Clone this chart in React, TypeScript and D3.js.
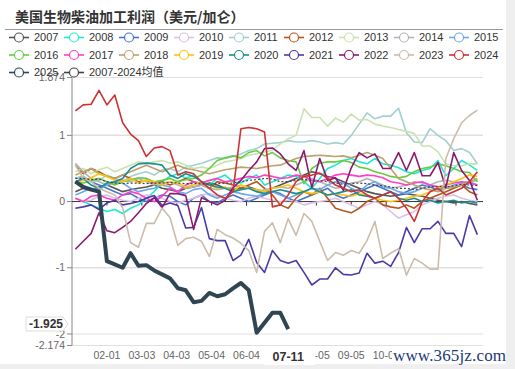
import React from 'react';
import * as d3 from 'd3';

// weekly values, first point at day index 3 of the calendar axis
const weekStart = 3;

const names = ['2007', '2008', '2009', '2010', '2011', '2012', '2013', '2014', '2015', '2016',
  '2017', '2018', '2019', '2020', '2021', '2022', '2023', '2024', '2025', '2007-2024均值'];

const colors = ['#555555', '#1de9d0', '#4a74c9', '#dcbfe6', '#a2cfd0', '#b5561f', '#c8e3b0', '#b4b4b4', '#6fa8e6', '#66cc44',
  '#ff3fc8', '#b9a46c', '#ffc20e', '#1b8f8f', '#4b3aa6', '#8b1a70', '#cbbcab', '#cc3333', '#2f4554', '#444444'];

const y2007 = [0.15, 0.2, 0.18, 0.22, 0.25, 0.2, 0.15, 0.18, 0.2, 0.22, 0.25, 0.2, 0.18,
  0.15, 0.2, 0.22, 0.25, 0.28, 0.25, 0.2, 0.18, 0.2, 0.22, 0.18, 0.15, 0.2,
  0.25, 0.3, 0.35, 0.4, 0.45, 0.42, 0.38, 0.35, 0.3, 0.25, 0.2, 0.15, 0.12,
  0.1, 0.08, 0.1, 0.12, 0.1, 0.08, 0.05, 0.02, 0.0, -0.02, 0.0, -0.03, -0.05];
const y2008 = [0.05, 0, -0.05, -0.1, -0.15, -0.12, -0.18, -0.1, -0.05, 0.05, 0.15, 0.3, 0.38,
  0.42, 0.35, 0.4, 0.3, 0.25, 0.35, 0.4, 0.3, 0.28, 0.35, 0.4, 0.25, 0.3,
  0.35, 0.4, 0.38, 0.3, 0.2, 0.35, 0.5, 0.55, 0.62, 0.65, 0.6, 0.57, 0.65,
  0.57, 0.55, 0.51, 0.45, 0.42, 0.47, 0.5, 0.62, 0.39, 0.5, 0.62, 0.55, 0.47];
const y2009 = [0.35, 0.38, 0.3, 0.25, 0.2, 0.15, 0.1, 0.12, 0.05, 0, 0.05, 0.1, 0.08,
  0, -0.05, 0.05, 0.1, 0, -0.02, 0.05, 0.1, 0.05, 0, 0.05, 0.1, 0.15,
  0.12, 0.05, 0, 0.05, 0.1, 0.15, 0.2, 0.1, 0.05, 0.1, 0.15, 0.2, 0.25,
  0.2, 0.15, 0.1, 0.15, 0.2, 0.25, 0.22, 0.18, 0.2, 0.22, 0.25, 0.2, 0.18];
const y2010 = [0.05, 0, 0.02, 0.08, 0.1, 0.05, 0.02, 0, 0.05, 0.1, 0.08, 0.05, 0,
  -0.02, 0.02, 0.05, 0.1, 0.12, 0.08, 0.05, 0.02, 0, 0.05, 0.08, 0.05, 0.02,
  0, 0.02, 0, -0.05, -0.02, 0, 0.02, 0.05, 0, -0.05, -0.1, -0.05, 0,
  -0.05, -0.15, -0.25, -0.2, -0.15, -0.05, 0, 0.05, 0.08, 0.1, 0.05, 0.02, 0];
const y2011 = [0.35, 0.38, 0.3, 0.32, 0.4, 0.35, 0.3, 0.38, 0.42, 0.45, 0.4, 0.48, 0.5,
  0.45, 0.52, 0.55, 0.58, 0.62, 0.66, 0.65, 0.68, 0.72, 0.77, 0.8, 0.87, 0.88,
  0.89, 0.92, 0.9, 0.9, 0.92, 0.9, 0.87, 0.89, 0.87, 1.0, 1.17, 1.34, 1.25,
  1.29, 1.29, 1.41, 1.04, 0.9, 0.89, 1.1, 1.0, 0.92, 0.77, 0.8, 0.74, 0.57];
const y2012 = [0.55, 0.42, 0.5, 0.45, 0.38, 0.35, 0.4, 0.35, 0.3, 0.32, 0.28, 0.3, 0.25,
  0.3, 0.35, 0.3, 0.25, 0.2, 0.3, 0.28, 0.25, 0.2, 0.25, 0.3, 0.2, 0.1,
  -0.05, -0.1, 0.05, 0.15, 0.1, 0.2, 0.05, -0.1, -0.14, -0.17, -0.1, 0, 0.05,
  -0.05, -0.08, -0.1, -0.05, -0.1, 0, 0.05, 0.1, 0.15, 0.2, 0.25, 0.15, 0.1];
const y2013 = [0.45, 0.5, 0.42, 0.48, 0.52, 0.45, 0.5, 0.55, 0.6, 0.58, 0.6, 0.62, 0.58,
  0.6, 0.55, 0.5, 0.52, 0.5, 0.55, 0.6, 0.62, 0.65, 0.7, 0.72, 0.75, 0.78,
  0.87, 0.95, 1.0, 1.4, 1.27, 1.27, 1.14, 1.26, 1.2, 1.32, 1.23, 1.24, 1.17,
  1.14, 1.12, 1.09, 1.06, 1.03, 0.84, 0.84, 0.75, 0.57, 0.54, 0.54, 0.57, 0.57];
const y2014 = [0.58, 0.45, 0.35, 0.3, 0.25, 0.28, 0.32, 0.3, 0.35, 0.3, 0.25, 0.28, 0.3,
  0.25, 0.2, 0.22, 0.25, 0.2, 0.18, 0.2, 0.22, 0.25, 0.2, 0.15, 0.18, 0.2,
  0.22, 0.2, 0.25, 0.3, 0.35, 0.3, 0.25, 0.2, 0.22, 0.28, 0.3, 0.35, 0.3,
  0.25, 0.2, 0.22, 0.25, 0.3, 0.28, 0.25, 0.3, 0.32, 0.3, 0.28, 0.3, 0.32];
const y2015 = [0.1, 0.15, 0.2, 0.18, 0.25, 0.3, 0.28, 0.2, 0.15, 0.18, 0.2, 0.25, 0.22,
  0.15, 0.12, 0.18, 0.2, 0.1, 0.05, 0.1, 0.15, 0.12, 0.1, 0.08, 0.12, 0.15,
  0.1, 0.05, 0.1, 0.15, 0.2, 0.18, 0.25, 0.3, 0.28, 0.2, 0.15, 0.25, 0.3,
  0.22, 0.2, 0.15, 0.12, 0.15, 0.2, 0.25, 0.22, 0.2, 0.25, 0.28, 0.3, 0.25];
const y2016 = [0.3, 0.28, 0.32, 0.35, 0.3, 0.25, 0.3, 0.33, 0.36, 0.35, 0.3, 0.32, 0.35,
  0.3, 0.33, 0.35, 0.4, 0.5, 0.62, 0.66, 0.69, 0.66, 0.74, 0.77, 0.69, 0.74,
  0.66, 0.62, 0.6, 0.27, 0.5, 0.58, 0.6, 0.6, 0.62, 0.59, 0.52, 0.5, 0.45,
  0.42, 0.38, 0.36, 0.38, 0.45, 0.5, 0.52, 0.57, 0.54, 0.5, 0.45, 0.44, 0.3];
const y2017 = [0.05, 0, 0.08, 0.1, 0.05, 0.02, 0.1, 0.15, 0.12, 0.05, 0, 0.08, 0.2,
  0.15, 0.25, 0.3, 0.28, 0.32, 0.35, 0.3, 0.32, 0.35, 0.38, 0.36, 0.4, 0.38,
  0.35, 0.36, 0.4, 0.38, 0.32, 0.3, 0.35, 0.4, 0.42, 0.4, 0.38, 0.4, 0.39,
  0.36, 0.3, 0.28, 0.25, 0.28, 0.3, 0.25, 0.22, 0.25, 0.28, 0.3, 0.28, 0.25];
const y2018 = [0.4, 0.45, 0.5, 0.42, 0.38, 0.35, 0.4, 0.45, 0.5, 0.55, 0.5, 0.45, 0.5,
  0.55, 0.5, 0.48, 0.45, 0.42, 0.45, 0.48, 0.5, 0.52, 0.51, 0.5, 0.52, 0.54,
  0.55, 0.6, 0.65, 0.68, 0.69, 0.7, 0.69, 0.68, 0.69, 0.66, 0.7, 0.74, 0.7,
  0.65, 0.5, 0.35, 0.3, 0.25, 0.2, 0.18, 0.15, 0.2, 0.22, 0.25, 0.3, 0.35];
const y2019 = [0.3, 0.32, 0.36, 0.42, 0.38, 0.32, 0.3, 0.35, 0.28, 0.32, 0.3, 0.25, 0.3,
  0.28, 0.22, 0.25, 0.3, 0.25, 0.2, 0.22, 0.15, 0.25, 0.2, 0.18, 0.15, 0.2,
  0.22, 0.25, 0.2, 0.15, 0.12, 0.15, 0.1, 0.12, 0.1, 0.08, 0.12, 0.1, 0.05,
  0.02, 0, 0.02, 0.05, 0.08, 0.1, 0.15, 0.2, 0.25, 0.3, 0.35, 0.4, 0.38];
const y2020 = [0.3, 0.35, 0.25, 0.2, 0.28, 0.3, 0.35, 0.5, 0.57, 0.58, 0.57, 0.55, 0.4,
  0.35, 0.42, 0.38, 0.3, 0.25, 0.22, 0.2, 0.15, 0.18, 0.2, 0.15, 0.12, 0.15,
  0.18, 0.15, 0.12, 0.15, 0.2, 0.15, 0.1, 0.12, 0.15, 0.18, 0.1, 0.08, 0.05,
  0.1, 0.15, 0.05, 0.02, 0.05, 0, 0.02, -0.02, 0, 0.02, -0.02, 0, -0.02];
const y2021 = [-0.1, -0.08, -0.05, -0.12, -0.02, 0.02, -0.05, -0.03, 0, 0.05,
  0.09, -0.06, -0.02, -0.06, -0.4, -0.39, -0.09, -0.56, -0.59, -0.59, -0.89, -0.81, -0.57, -0.92,
  -1.07, -0.74, -0.89, -0.93, -0.89, -1.07, -1.26, -1.17, -1.17, -1.0, -1.1, -1.11, -1.08,
  -0.78, -0.93, -0.9, -0.98, -0.77, -0.39, -0.62, -0.41, -0.41, -0.3, -0.48, -0.48, -0.68, -0.21, -0.5];
const y2022 = [-0.72, -0.6, -0.48, -0.17, -0.44, -0.47, -0.39, -0.3, -0.17, -0.03, 0.06, -0.09, 0.12,
  0.12, 0.09, -0.42, 0.06, 0, -0.05, 0.02, 0.21, 0.32, 0.47, 0.6, 0.8, 0.81,
  0.72, 0.57, 0.47, 0.77, 0.21, 0.65, 0.32, 0.36, 0.17, 0.51, 0.74, 0.66, 0.72,
  0.5, 0.5, 0.74, 0.47, 0.74, 0.39, 0.39, 0.59, 0.21, 0.74, 0.47, 0.32, 0.02];
const y2023 = [0.55, 0.35, 0.3, 0.2, 0.15, 0.1, -0.1,
  -0.62, -0.69, -0.33, -0.33, -0.1, -0.24, -0.66, -0.56, -0.54,
  -0.6, -0.83, -0.42, -0.5, -0.55, -0.63, -0.74, -1.07, -0.45, -0.32, -0.62, -0.26,
  -0.51, -0.18, -0.3, -0.6, -0.89, -0.77, -0.81, -0.74, -0.78, -0.59, -0.3, -0.86,
  -0.78, -0.71, -1.11, -0.86, -0.93, -1.02, -1.02, 0.65, 0.95, 1.19, 1.3, 1.38];
const y2024 = [1.37, 1.46, 1.47, 1.68, 1.46, 1.61, 1.19, 1.02, 0.92, 0.68, 0.81, 0.83, 0.77,
  0.4, 0.45, 0.42, 0.3, 0.2, 0.1, 0.05, 0.15, 1.1, 1.12, 1.1, 1.05, -0.08,
  -0.05, 0.1, 0.3, 0.38, 0.4, 0.43, 0.35, 0.25, 0.2, 0.15, 0.18, 0.1, 0.05,
  0.1, 0.15, 0.05, -0.1, -0.3, 0, 0.15, 0.2, 0.1, 0.15, 0.2, 0.3, 0.45];
const y2025 = [0.3, 0.22, 0.18, 0.15, -0.9, -0.95, -1.0, -0.78, -0.97, -0.96, -1.04, -1.1, -1.16,
  -1.31, -1.34, -1.52, -1.5, -1.38, -1.43, -1.4, -1.31, -1.23, -1.34, -1.98, -1.83, -1.68, -1.68, -1.925];
const yMean = [0.35, 0.35, 0.33, 0.34, 0.3, 0.28, 0.27, 0.28, 0.28, 0.27, 0.28, 0.28, 0.29,
  0.28, 0.27, 0.27, 0.28, 0.26, 0.27, 0.28, 0.28, 0.3, 0.32, 0.33, 0.35, 0.34,
  0.3, 0.3, 0.32, 0.34, 0.3, 0.32, 0.3, 0.28, 0.26, 0.27, 0.28, 0.27, 0.25,
  0.24, 0.22, 0.2, 0.2, 0.18, 0.2, 0.22, 0.23, 0.22, 0.24, 0.26, 0.25, 0.24];

const series = [y2007, y2008, y2009, y2010, y2011, y2012, y2013, y2014, y2015, y2016,
  y2017, y2018, y2019, y2020, y2021, y2022, y2023, y2024, y2025, yMean];

const yTicks = [1.874, 1, 0, -1, -2, -2.174];
const xTickLabels = ['02-01', '03-03', '04-03', '05-04', '06-04', '07-05', '08-05', '09-05', '10-06', '11-06', '12-07'];

const font = "'Liberation Sans', 'Noto Sans CJK SC', sans-serif";

export default function App() {
  const dates = d3.timeDay.range(new Date(2024, 0, 1), new Date(2025, 0, 1)).map(d3.timeFormat('%m-%d'));
  const x = d3.scalePoint<string>().domain(dates).range([72, 483]);
  const y = d3.scaleLinear().domain([-2.174, 1.874]).range([345.5, 77.5]);
  const line = d3.line<number>()
    .x((_, i) => x(dates[weekStart + 7 * i])!)
    .y(d => y(d));

  const lastIdx = weekStart + 7 * (y2025.length - 1);
  const pointerX = x(dates[lastIdx])!;
  const pointerVal = y2025[y2025.length - 1];
  const pointerY = y(pointerVal);

  // areas covered by the pointer label box and the watermark
  const boxL = pointerX - 24, boxR = pointerX + 27;
  const wmL = 392;
  const visible = xTickLabels.filter(l => {
    const cx = x(l)!;
    const l0 = cx - 13, r0 = cx + 13;
    const underBox = l0 >= boxL - 4 && r0 <= boxR + 4;
    const underWm = l0 >= wmL;
    return !underBox && !underWm;
  });

  return (
    <svg width={515} height={369} style={{ position: 'absolute', left: 0, top: 0 }} fontFamily={font}>
      <defs>
        <clipPath id="xlab">
          <rect x={60} y={340} width={boxL - 60} height={30} />
          <rect x={boxR} y={340} width={wmL - boxR} height={30} />
        </clipPath>
      </defs>
      <rect width={515} height={369} fill="#fff" />
      <rect x={506} y={0} width={9} height={369} fill="#efefef" />
      <rect x={0} y={364} width={515} height={5} fill="#efefef" />

      <text x={15} y={22} fontSize={14} fontWeight="bold" fill="#333" fontFamily="'Noto Sans CJK SC', sans-serif">
        美国生物柴油加工利润（美元/加仑）
      </text>
      <line x1={5} x2={503} y1={29.5} y2={29.5} stroke="#999" />

      {/* grid */}
      {yTicks.filter(t => t !== 0).map(t => (
        <line key={t} x1={72} x2={483} y1={y(t)} y2={y(t)} stroke="#e0e0e0" strokeWidth={t === 1 || t === -1 ? 1.5 : 1} />
      ))}
      {/* y axis */}
      <line x1={72} x2={72} y1={y(1.874)} y2={y(-2.174)} stroke="#888" />
      {yTicks.map(t => (
        <g key={t}>
          <line x1={67} x2={72} y1={y(t)} y2={y(t)} stroke="#888" />
          <text x={65} y={y(t)} dy="0.35em" textAnchor="end" fontSize={10.5} fill="#666">{t}</text>
        </g>
      ))}
      {/* x axis at zero */}
      <line x1={72} x2={483} y1={y(0)} y2={y(0)} stroke="#333" />
      {xTickLabels.map(l => (
        <line key={l} x1={x(l)} x2={x(l)} y1={y(0)} y2={y(0) + 4} stroke="#333" />
      ))}
      <g clipPath="url(#xlab)">
        {visible.map(l => (
          <text key={l} x={x(l)} y={359} textAnchor="middle" fontSize={10.5} fill="#666">{l}</text>
        ))}
      </g>

      {/* series */}
      {series.map((s, k) => (
        <path key={names[k]} d={line(s)!} fill="none" stroke={colors[k]}
          strokeWidth={k === 18 ? 4 : k === 19 ? 1.2 : 1.6}
          strokeDasharray={k === 19 ? '2,2' : undefined}
          strokeLinejoin="round" />
      ))}

      {/* legend */}
      {names.map((n, k) => {
        const lx = 9 + (k % 9) * 55;
        const ly = 37.5 + Math.floor(k / 9) * 17.5;
        return (
          <g key={n}>
            <line x1={lx} x2={lx + 20} y1={ly} y2={ly} stroke={colors[k]} strokeWidth={1.6} />
            <circle cx={lx + 10} cy={ly} r={4.5} fill="#fff" stroke={colors[k]} strokeWidth={1.2} />
            <text x={lx + 25} y={ly} dy="0.36em" fontSize={11} fill="#333">{n}</text>
          </g>
        );
      })}

      {/* axis pointer labels */}
      <path d={`M26,${pointerY - 12} H63 L68,${pointerY - 5} L63,${pointerY + 2} H26 Z`} fill="#fff" stroke="#ddd" />
      <text x={46} y={pointerY - 5} dy="0.36em" textAnchor="middle" fontSize={12} fontWeight="bold" fill="#333">{pointerVal}</text>
      <rect x={boxL} y={348} width={boxR - boxL} height={17} fill="#fff" />
      <text x={pointerX} y={361} textAnchor="middle" fontSize={12.5} fontWeight="bold" fill="#333">{dates[lastIdx]}</text>

      {/* watermark */}
      <rect x={wmL} y={346} width={114} height={18} fill="#fff" />
      <text x={393} y={361} fontSize={17} fill="#1c3a78" fontFamily="'Liberation Serif', serif" textLength={113}>www.365jz.com</text>
    </svg>
  );
}
